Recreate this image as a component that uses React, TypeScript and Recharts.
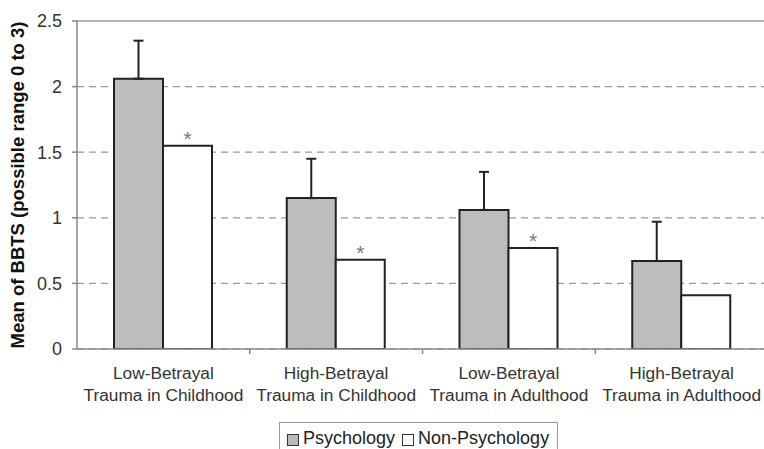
import React from 'react';
import { BarChart, Bar, XAxis, YAxis, CartesianGrid, ErrorBar, LabelList, Legend, ReferenceLine } from 'recharts';

const categoryLines = [
  ['Low-Betrayal', 'Trauma in Childhood'],
  ['High-Betrayal', 'Trauma in Childhood'],
  ['Low-Betrayal', 'Trauma in Adulthood'],
  ['High-Betrayal', 'Trauma in Adulthood'],
];
const psychology = [2.06, 1.15, 1.06, 0.67];
const psychologyError = [0.29, 0.3, 0.29, 0.3];
const nonPsychology = [1.55, 0.68, 0.77, 0.41];
const significance = ['*', '*', '*', ''];
const yTicks = [0, 0.5, 1, 1.5, 2, 2.5];

const data = categoryLines.map((lines, i) => ({
  name: lines.join(' '),
  psychology: psychology[i],
  psychologyErr: [0, psychologyError[i]],
  nonPsychology: nonPsychology[i],
  star: significance[i],
}));

const FONT = '"Liberation Sans", Arial, sans-serif';

const CategoryTick = (props: any) => {
  const { x, y, payload } = props;
  const lines = categoryLines[payload.index] || [];
  const half = payload.offset || 0;
  return (
    <g>
      {payload.index < categoryLines.length - 1 && (
        <line x1={x + half} x2={x + half} y1={y} y2={y + 5} stroke="#888" strokeWidth={1.5} />
      )}
      {lines.map((t, i) => (
        <text key={i} x={x} y={y + 30 + i * 22} textAnchor="middle" fontSize={17.3} fill="#333" fontFamily={FONT}>
          {t}
        </text>
      ))}
    </g>
  );
};

const LegendBox = () => (
  <div
    style={{
      boxSizing: 'border-box',
      height: 30,
      border: '1px solid #999',
      borderBottom: 'none',
      display: 'flex',
      alignItems: 'flex-start',
      paddingTop: 4,
      paddingLeft: 7,
      fontFamily: FONT,
      fontSize: 18,
      lineHeight: '22px',
      color: '#222',
      background: '#fff',
    }}
  >
    <span style={{ width: 10, height: 10, marginTop: 7, border: '1px solid #333', background: '#bbb', marginRight: 4 }} />
    <span style={{ marginRight: 7 }}>Psychology</span>
    <span style={{ width: 10, height: 10, marginTop: 7, border: '1px solid #333', background: '#fff', marginRight: 4 }} />
    <span>Non-Psychology</span>
  </div>
);

export default function App() {
  return (
    <div style={{ width: 764, height: 449, overflow: 'hidden', position: 'relative', background: '#fff' }}>
      <style>{'html,body{margin:0;padding:0;overflow:hidden}'}</style>
      <BarChart
        width={772}
        height={452}
        data={data}
        margin={{ top: 21, right: 4, left: 0, bottom: 0 }}
        barGap={0}
      >
        <CartesianGrid vertical={false} stroke="#999" strokeDasharray="7 5" strokeWidth={1.2} />
        <XAxis
          dataKey="name"
          height={73}
          axisLine={{ stroke: '#888', strokeWidth: 1.5 }}
          tickLine={false}
          tickSize={0}
          tickMargin={0}
          interval={0}
          tick={<CategoryTick />}
        />
        <YAxis
          width={77}
          domain={[0, 2.5]}
          ticks={yTicks}
          allowDataOverflow
          axisLine={{ stroke: '#888', strokeWidth: 1.5 }}
          tickLine={{ stroke: '#888', strokeWidth: 1.5 }}
          tickSize={5}
          tickMargin={10}
          tick={{ fontSize: 18, fill: '#333', fontFamily: FONT }}
          label={{
            value: 'Mean of BBTS (possible range 0 to 3)',
            angle: -90,
            position: 'center',
            dx: -21,
            fontSize: 18.5,
            fontWeight: 'bold',
            fill: '#111',
            fontFamily: FONT,
          }}
        />
        <ReferenceLine y={2.5} stroke="#b5b5b5" strokeWidth={2} />
        <Legend
          verticalAlign="bottom"
          content={<LegendBox />}
          wrapperStyle={{ left: 279, width: 279, bottom: 0 }}
        />
        <Bar dataKey="psychology" name="Psychology" fill="#bdbdbd" stroke="#222" strokeWidth={2} barSize={49} isAnimationActive={false}>
          <ErrorBar dataKey="psychologyErr" width={5} stroke="#222" strokeWidth={2} direction="y" />
        </Bar>
        <Bar dataKey="nonPsychology" name="Non-Psychology" fill="#fff" stroke="#222" strokeWidth={2} barSize={49} isAnimationActive={false}>
          <LabelList dataKey="star" position="top" offset={0} fontSize={21} fill="#777" fontFamily={FONT} />
        </Bar>
      </BarChart>
    </div>
  );
}
